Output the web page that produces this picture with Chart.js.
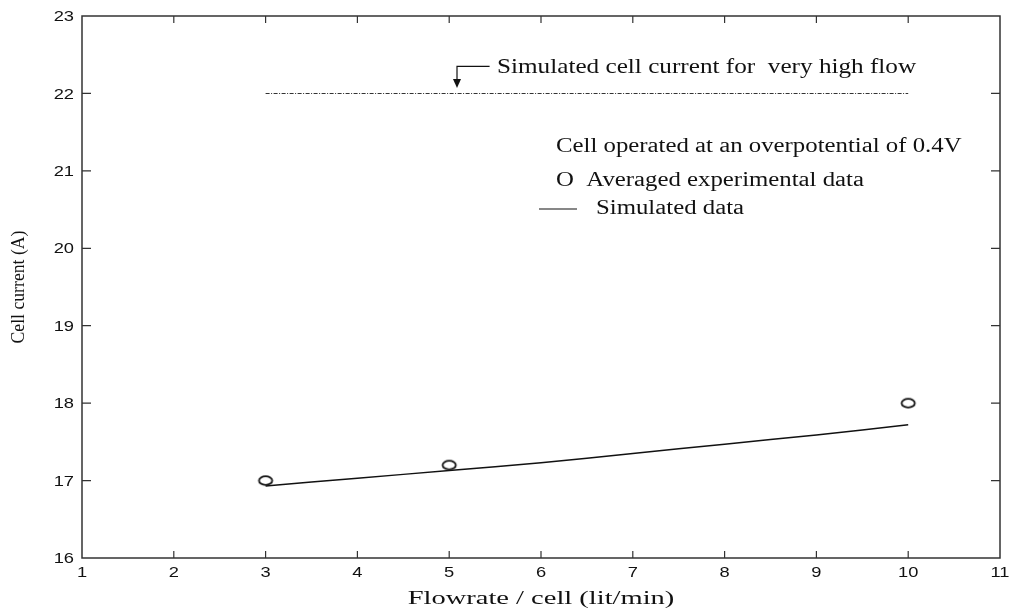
<!DOCTYPE html>
<html>
<head>
<meta charset="utf-8">
<script src="https://cdn.jsdelivr.net/npm/chart.js@4"></script>
<style>
  html, body { margin: 0; padding: 0; background: #fff; }
  #wrap { width: 1010px; height: 610px; }
</style>
</head>
<body>
<div id="wrap"><canvas id="flowChart" width="1010" height="610"></canvas></div>
<script>
// measured cell current vs flow rate
const expFlow = [3, 5, 10];
const expCurrent = [17.0, 17.2, 18.0];

// model curve
const simFlow = [3, 4, 5, 6, 7, 8, 9, 10];
const simCurrent = [16.93, 17.03, 17.13, 17.23, 17.35, 17.47, 17.59, 17.72];

// limiting current at very high flow
const highFlowX = [3, 10];
const highFlowCurrent = [22, 22];

const xTicks = [1, 2, 3, 4, 5, 6, 7, 8, 9, 10, 11];
const yTicks = [16, 17, 18, 19, 20, 21, 22, 23];

const serif = '"Liberation Serif", "Times New Roman", serif';
const sans = '"Liberation Sans", Arial, sans-serif';

// open ellipse marker like the plotted "O"
function ellipseMarker() {
  const c = document.createElement("canvas");
  c.width = 18; c.height = 13;
  const g = c.getContext("2d");
  g.strokeStyle = "#111";
  g.lineWidth = 1.8;
  g.beginPath();
  g.ellipse(9, 6.5, 6.6, 4.4, 0, 0, Math.PI * 2);
  g.stroke();
  return c;
}

const toXY = (xs, ys) => xs.map((x, i) => ({ x, y: ys[i] }));

// text with the wide, stretched glyphs of the original plot
function wideText(ctx, text, x, y, font, sx, align) {
  ctx.save();
  ctx.font = font;
  ctx.textAlign = align || "left";
  ctx.translate(x, y);
  ctx.scale(sx, 1);
  ctx.fillText(text, 0, 0);
  ctx.restore();
}

// frame, inward ticks, tick labels, annotations and axis titles
const decorations = {
  id: "decorations",
  afterDraw(chart) {
    const { ctx, chartArea: a, scales: { x, y } } = chart;
    ctx.save();

    ctx.strokeStyle = "#333";
    ctx.lineWidth = 1.5;
    ctx.strokeRect(a.left, a.top, a.right - a.left, a.bottom - a.top);

    ctx.lineWidth = 1.2;
    ctx.beginPath();
    xTicks.slice(1, -1).forEach(v => {
      const px = x.getPixelForValue(v);
      ctx.moveTo(px, a.bottom); ctx.lineTo(px, a.bottom - 7);
      ctx.moveTo(px, a.top); ctx.lineTo(px, a.top + 7);
    });
    yTicks.slice(1, -1).forEach(v => {
      const py = y.getPixelForValue(v);
      ctx.moveTo(a.left, py); ctx.lineTo(a.left + 9, py);
      ctx.moveTo(a.right, py); ctx.lineTo(a.right - 9, py);
    });
    ctx.stroke();

    ctx.fillStyle = "#111";
    const tickFont = "15px " + sans;
    ctx.textBaseline = "middle";
    yTicks.forEach(v => wideText(ctx, String(v), a.left - 8, y.getPixelForValue(v) + 1, tickFont, 1.22, "right"));
    ctx.textBaseline = "top";
    xTicks.forEach(v => wideText(ctx, String(v), x.getPixelForValue(v), a.bottom + 7, tickFont, 1.22, "center"));

    // arrow pointing at the high-flow line
    const ax = x.getPixelForValue(5.085);
    const ay0 = y.getPixelForValue(22.35);
    const ay1 = y.getPixelForValue(22.07);
    ctx.strokeStyle = "#111";
    ctx.lineWidth = 1.2;
    ctx.beginPath();
    ctx.moveTo(x.getPixelForValue(5.44), ay0);
    ctx.lineTo(ax, ay0);
    ctx.lineTo(ax, ay1 - 8);
    ctx.stroke();
    ctx.beginPath();
    ctx.moveTo(ax - 4, ay1 - 9);
    ctx.lineTo(ax + 4, ay1 - 9);
    ctx.lineTo(ax, ay1);
    ctx.closePath();
    ctx.fill();

    ctx.textBaseline = "middle";
    wideText(ctx, "Simulated cell current for  very high flow", 497, 67, "21px " + serif, 1.2);

    const legFont = "20px " + serif;
    wideText(ctx, "Cell operated at an overpotential of 0.4V", 556, 147, legFont, 1.24);
    wideText(ctx, "O  Averaged experimental data", 556, 181, legFont, 1.24);
    wideText(ctx, "Simulated data", 596, 209, legFont, 1.24);
    ctx.lineWidth = 1.2;
    ctx.beginPath();
    ctx.moveTo(539, 209); ctx.lineTo(577, 209);
    ctx.stroke();

    // axis titles
    wideText(ctx, "Flowrate / cell (lit/min)", (a.left + a.right) / 2, 599, "19px " + serif, 1.5, "center");
    ctx.save();
    ctx.translate(19, (a.top + a.bottom) / 2);
    ctx.rotate(-Math.PI / 2);
    wideText(ctx, "Cell current (A)", 0, 0, "19px " + serif, 0.93, "center");
    ctx.restore();

    ctx.restore();
  }
};

new Chart(document.getElementById("flowChart"), {
  type: "scatter",
  data: {
    datasets: [
      {
        label: "Simulated cell current for very high flow",
        data: toXY(highFlowX, highFlowCurrent),
        showLine: true,
        borderColor: "#333",
        borderWidth: 1.1,
        borderDash: [4, 1.5, 1, 1.5],
        pointRadius: 0
      },
      {
        label: "Simulated data",
        data: toXY(simFlow, simCurrent),
        showLine: true,
        borderColor: "#111",
        borderWidth: 1.5,
        tension: 0.3,
        pointRadius: 0
      },
      {
        label: "Averaged experimental data",
        data: toXY(expFlow, expCurrent),
        pointStyle: ellipseMarker(),
        pointRadius: 7
      }
    ]
  },
  options: {
    responsive: false,
    animation: false,
    layout: { padding: { top: 16, right: 10, left: 0, bottom: 0 } },
    plugins: { legend: { display: false }, tooltip: { enabled: false } },
    scales: {
      x: {
        type: "linear",
        min: 1, max: 11,
        afterBuildTicks: s => { s.ticks = xTicks.map(v => ({ value: v })); },
        afterFit: s => { s.height = 52; },
        grid: { display: false, drawTicks: false },
        border: { display: false },
        ticks: { display: false }
      },
      y: {
        type: "linear",
        min: 16, max: 23,
        afterBuildTicks: s => { s.ticks = yTicks.map(v => ({ value: v })); },
        afterFit: s => { s.width = 82; },
        grid: { display: false, drawTicks: false },
        border: { display: false },
        ticks: { display: false }
      }
    }
  },
  plugins: [decorations]
});
</script>
</body>
</html>
